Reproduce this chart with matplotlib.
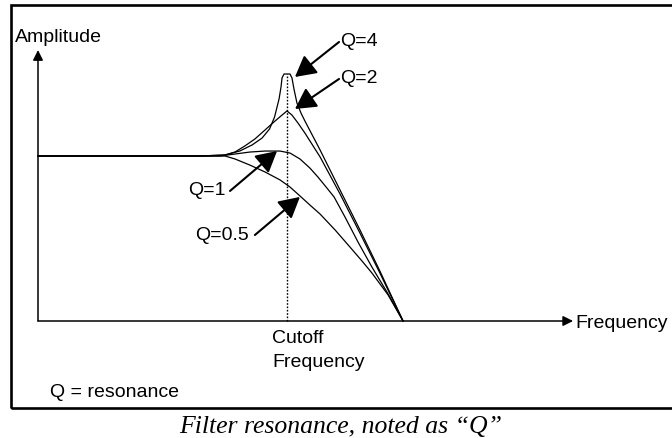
import matplotlib
matplotlib.use("Agg")
import matplotlib.pyplot as plt
from matplotlib.patches import Rectangle

# frequency relative to cutoff, amplitude relative to passband level
freq_q4 = [0, 0.65, 0.75, 0.81, 0.86, 0.90, 0.93, 0.95, 0.968, 0.976, 0.98, 0.988,
           1.012, 1.02, 1.028, 1.04, 1.056, 1.072, 1.133, 1.213, 1.293, 1.373, 1.466]
amp_q4 = [1.0, 1.0, 1.006, 1.03, 1.067, 1.109, 1.164, 1.236, 1.345, 1.418, 1.473, 1.497,
          1.497, 1.473, 1.406, 1.321, 1.261, 1.212, 1.036, 0.794, 0.552, 0.303, 0.0]

freq_q2 = [0, 0.65, 0.751, 0.791, 0.831, 0.871, 0.912, 0.952, 0.98, 1.0, 1.02, 1.044,
           1.072, 1.133, 1.213, 1.293, 1.373, 1.466]
amp_q2 = [1.0, 1.0, 1.006, 1.024, 1.061, 1.103, 1.158, 1.212, 1.248, 1.273, 1.248, 1.2,
          1.139, 0.994, 0.770, 0.533, 0.291, 0.0]

freq_q1 = [0, 0.731, 0.791, 0.851, 0.912, 0.972, 1.012, 1.052, 1.092, 1.124, 1.157,
           1.189, 1.233, 1.285, 1.341, 1.406, 1.466]
amp_q1 = [1.0, 1.0, 1.012, 1.024, 1.030, 1.030, 1.018, 0.982, 0.927, 0.873, 0.812,
          0.752, 0.630, 0.479, 0.327, 0.164, 0.0]

freq_q05 = [0, 0.751, 0.791, 0.851, 0.912, 0.972, 1.012, 1.052, 1.092, 1.133, 1.193,
            1.253, 1.301, 1.341, 1.406, 1.466]
amp_q05 = [1.0, 1.0, 0.982, 0.945, 0.903, 0.855, 0.812, 0.758, 0.703, 0.648, 0.552,
           0.448, 0.364, 0.291, 0.158, 0.0]

cutoff = 1.0
peak_q4 = max(amp_q4)

sans = "Liberation Sans"
fs = 14

fig = plt.figure(figsize=(6.72, 4.39), dpi=100)
ax = fig.add_axes([0, 0, 1, 1])
ax.set_xlim(-0.1526, 2.5462)
ax.set_ylim(-0.7091, 1.9515)
ax.axis("off")

# curves
for f, a in [(freq_q4, amp_q4), (freq_q2, amp_q2), (freq_q1, amp_q1), (freq_q05, amp_q05)]:
    ax.plot(f, a, color="black", lw=0.9, solid_joinstyle="round")

# cutoff marker
ax.plot([cutoff, cutoff], [0, peak_q4], color="black", lw=1.0, ls=(0, (1.2, 1.2)))

# axes with arrows
axis_arrow = dict(arrowstyle="-|>", color="black", lw=1.1, mutation_scale=15,
                  shrinkA=0, shrinkB=0)
ax.annotate("", xy=(0, 1.642), xytext=(0, 0), arrowprops=axis_arrow)
ax.annotate("", xy=(2.149, 0), xytext=(0, 0), arrowprops=axis_arrow)

ax.text(-0.092, 1.697, "Amplitude", family=sans, fontsize=fs, va="baseline")
ax.text(2.157, -0.036, "Frequency", family=sans, fontsize=fs, va="baseline")
ax.text(0.940, -0.127, "Cutoff", family=sans, fontsize=fs, va="baseline")
ax.text(0.940, -0.271, "Frequency", family=sans, fontsize=fs, va="baseline")
ax.text(0.048, -0.455, "Q = resonance", family=sans, fontsize=fs, va="baseline")

# Q labels with pointers
label_arrow = dict(arrowstyle="-|>,head_length=0.55,head_width=0.3", color="black",
                   lw=1.5, mutation_scale=23, shrinkA=0, shrinkB=0)
labels = [
    ("Q=4", (1.213, 1.673), (1.209, 1.691), (1.032, 1.479)),
    ("Q=2", (1.213, 1.448), (1.209, 1.467), (1.032, 1.285)),
    ("Q=1", (0.602, 0.770), (0.771, 0.788), (0.960, 1.030)),
    ("Q=0.5", (0.631, 0.497), (0.871, 0.521), (1.052, 0.752)),
]
for txt, pos, start, tip in labels:
    ax.text(pos[0], pos[1], txt, family=sans, fontsize=fs, va="baseline")
    ax.annotate("", xy=tip, xytext=start, arrowprops=label_arrow)

# frame and caption
fig.patches.append(Rectangle((11 / 672, 30 / 439), 1.0, 403 / 439, fill=False,
                             lw=1.9, edgecolor="black", transform=fig.transFigure,
                             clip_on=False))
fig.text(341 / 672, 6 / 439, "Filter resonance, noted as \u201cQ\u201d",
         family="Liberation Serif", style="italic", fontsize=18.5,
         ha="center", va="baseline")

fig.savefig("out.png", dpi=100)
